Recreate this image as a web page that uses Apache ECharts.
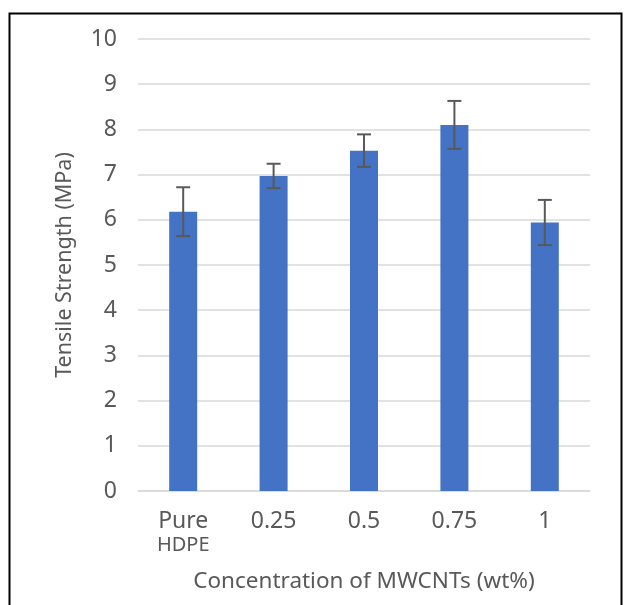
<!DOCTYPE html>
<html>
<head>
<meta charset="utf-8">
<script src="https://cdn.jsdelivr.net/npm/echarts@6/dist/echarts.min.js"></script>
<style>html,body{margin:0;padding:0;background:#fff;}#c{width:625px;height:605px;}</style>
</head>
<body>
<div id="c"></div>
<script>
const categories = ['Pure\nHDPE', '0.25', '0.5', '0.75', '1'];
const values = [6.18, 6.97, 7.53, 8.10, 5.94];
const errors = [0.54, 0.27, 0.36, 0.53, 0.50];
const yTicks = [0, 1, 2, 3, 4, 5, 6, 7, 8, 9, 10];

const font = '"Noto Sans", sans-serif';
const txt = '#595959';
const chart = echarts.init(document.getElementById('c'));
const errData = values.map((v, i) => [i, v - errors[i], v + errors[i]]);

chart.setOption({
  animation: false,
  textStyle: { fontFamily: font },
  graphic: [{
    type: 'rect', left: 7, top: 11, shape: { width: 612, height: 620 },
    style: { fill: 'none', stroke: '#000', lineWidth: 2 }, silent: true
  }],
  grid: { left: 138, right: 35, top: 39, bottom: 114 },
  xAxis: {
    type: 'category', data: categories,
    axisLine: { lineStyle: { color: '#d9d9d9', width: 1.5 } },
    axisTick: { show: false },
    axisLabel: {
      interval: 0,
      color: txt, fontSize: 23, margin: 18, lineHeight: 25, fontFamily: font,
      formatter: function (v) {
        if (v.indexOf('\n') >= 0) {
          const p = v.split('\n');
          return '{a|' + p[0] + '}\n{b|' + p[1] + '}';
        }
        return v;
      },
      rich: {
        a: { fontSize: 23, lineHeight: 25, color: txt, fontFamily: font },
        b: { fontSize: 20, lineHeight: 22, color: txt, fontFamily: font }
      }
    },
    name: 'Concentration of MWCNTs (wt%)', nameLocation: 'middle', nameGap: 79,
    nameTextStyle: { color: txt, fontSize: 22.5, fontFamily: font }
  },
  yAxis: {
    type: 'value', min: 0, max: 10, interval: 1,
    axisLine: { show: false }, axisTick: { show: false },
    splitLine: { lineStyle: { color: '#d9d9d9', width: 1.5 } },
    axisLabel: { color: txt, fontSize: 23, margin: 21, fontFamily: font,
      formatter: v => yTicks.includes(v) ? String(v) : '' },
    name: 'Tensile Strength (MPa)', nameLocation: 'middle', nameGap: 62,
    nameTextStyle: { color: txt, fontSize: 21.5, fontFamily: font }
  },
  series: [{
    type: 'bar', data: values, barWidth: 28,
    itemStyle: { color: '#4472C4' }
  }, {
    type: 'custom', data: errData, z: 10,
    renderItem: function (params, api) {
      const x = api.value(0);
      const lo = api.coord([x, api.value(1)]);
      const hi = api.coord([x, api.value(2)]);
      const hw = 7;
      const st = { stroke: '#595959', lineWidth: 2 };
      return { type: 'group', children: [
        { type: 'line', shape: { x1: lo[0], y1: lo[1], x2: hi[0], y2: hi[1] }, style: st },
        { type: 'line', shape: { x1: lo[0] - hw, y1: lo[1], x2: lo[0] + hw, y2: lo[1] }, style: st },
        { type: 'line', shape: { x1: hi[0] - hw, y1: hi[1], x2: hi[0] + hw, y2: hi[1] }, style: st }
      ]};
    }
  }]
});
</script>
</body>
</html>
